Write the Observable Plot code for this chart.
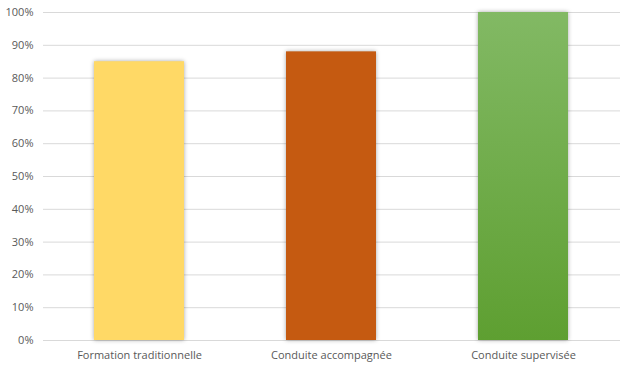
<!DOCTYPE html>
<html>
<head>
<meta charset="utf-8">
<script src="https://cdn.jsdelivr.net/npm/d3@7"></script>
<script src="https://cdn.jsdelivr.net/npm/@observablehq/plot@0.6"></script>
<style>
  html, body { margin: 0; padding: 0; background: #fff; }
  #chart svg { display: block; }
</style>
</head>
<body>
<div id="chart"></div>
<script>
const categories = ["Formation traditionnelle", "Conduite accompagnée", "Conduite supervisée"];
const values = [0.85, 0.88, 1.0];
const fills = ["#FFD966", "#C55A11", "url(#greenGrad)"];
const yTicks = [0, 0.1, 0.2, 0.3, 0.4, 0.5, 0.6, 0.7, 0.8, 0.9, 1.0];

const data = categories.map((c, i) => ({category: c, value: values[i], fill: fills[i]}));

const chart = Plot.plot({
  width: 631,
  height: 370,
  marginLeft: 43,
  marginRight: 11,
  marginTop: 12,
  marginBottom: 30,
  style: {fontFamily: "'Open Sans', 'Liberation Sans', sans-serif", fontSize: "11px", color: "#595959", background: "#fff"},
  x: {domain: categories, paddingInner: 0.53, paddingOuter: 0.265, label: null},
  y: {domain: [0, 1], label: null},
  color: {type: "identity"},
  marks: [
    Plot.gridY(yTicks, {stroke: "#d9d9d9", strokeOpacity: 1}),
    Plot.axisY(yTicks, {tickSize: 0, tickPadding: 10, tickFormat: d => Math.round(d * 100) + "%", fill: "#595959", fontSize: 11}),
    Plot.axisX({tickSize: 0, tickPadding: 11, fill: "#595959", fontSize: 11}),
    Plot.barY(data, {x: "category", y: "value", fill: "fill"})
  ]
});

const svg = d3.select(chart);
const defs = svg.insert("defs", ":first-child");
const grad = defs.append("linearGradient").attr("id", "greenGrad").attr("x1", 0).attr("y1", 0).attr("x2", 0).attr("y2", 1);
grad.append("stop").attr("offset", "0%").attr("stop-color", "#82B964");
grad.append("stop").attr("offset", "100%").attr("stop-color", "#5E9F31");
svg.selectAll("g[aria-label='bar'] rect").style("filter", "drop-shadow(0px 0px 2px rgba(0,0,0,0.35))");

document.getElementById("chart").appendChild(chart);
</script>
</body>
</html>
